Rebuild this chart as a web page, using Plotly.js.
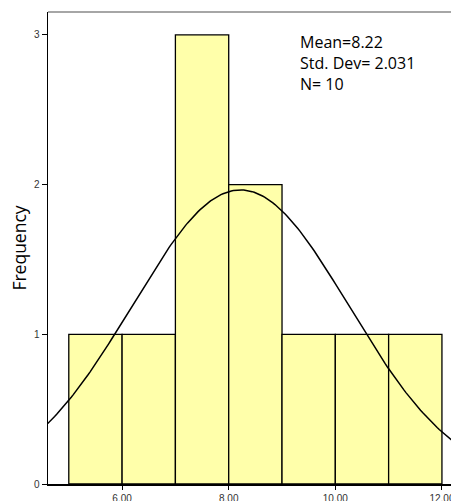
<!DOCTYPE html>
<html><head><meta charset="utf-8">
<script src="https://cdn.plot.ly/plotly-3.0.1.min.js"></script>
<style>html,body{margin:0;padding:0;background:#fff}#c{width:451px;height:501px}</style>
</head><body><div id="c"></div>
<script>
const binCenters = [5.5, 6.5, 7.5, 8.5, 9.5, 10.5, 11.5];
const counts = [1, 1, 3, 2, 1, 1, 1];
const xTickVals = [6, 8, 10, 12];
const xTickText = ["6.00", "8.00", "10.00", "12.00"];
const yTickVals = [0, 1, 2, 3];
const mean = 8.22, sd = 2.031, n = 10, binWidth = 1;

const cx = [], cy = [];
for (let i = 0; i <= 200; i++) {
  const x = 4.5 + i * (12.3 - 4.5) / 200;
  cx.push(x);
  cy.push(n * binWidth * Math.exp(-0.5 * Math.pow((x - mean) / sd, 2)) / (sd * Math.sqrt(2 * Math.PI)));
}

const data = [
  {type: 'bar', x: binCenters, y: counts, width: 1,
   marker: {color: 'rgb(255,255,170)', line: {color: '#000', width: 1.3}}, hoverinfo: 'none'},
  {type: 'scatter', mode: 'lines', x: cx, y: cy, line: {color: '#000', width: 1.5}, hoverinfo: 'none'}
];
const layout = {
  width: 451, height: 501,
  margin: {l: 48, r: 0, t: 12, b: 17},
  paper_bgcolor: '#fff', plot_bgcolor: '#fff',
  showlegend: false, bargap: 0,
  xaxis: {range: [4.61, 12.17], tickvals: xTickVals, ticktext: xTickText, showgrid: false, zeroline: false,
          showline: true, linecolor: '#000', linewidth: 1.5, ticks: 'outside', ticklen: 4, tickcolor: '#000',
          ticklabeloverflow: 'allow', ticklabelstandoff: 0,
          tickfont: {family: 'Liberation Sans, Arial', size: 10, color: '#333'}},
  yaxis: {range: [0, 3.153], tickvals: yTickVals, showgrid: false, zeroline: false,
          showline: true, linecolor: '#000', linewidth: 1.5, ticks: 'outside', ticklen: 5, tickcolor: '#000',
          tickfont: {family: 'Liberation Sans, Arial', size: 10, color: '#333'},
          title: {text: 'Frequency', font: {family: 'Open Sans, Liberation Sans', size: 17.5, color: '#000'}, standoff: 3}},
  shapes: [{type: 'line', xref: 'paper', yref: 'paper', x0: 0, x1: 1, y0: 1, y1: 1, line: {color: '#888', width: 1.5}}],
  annotations: [{xref: 'paper', yref: 'paper', x: (298-48)/403, y: (484-63)/472, xanchor: 'left', yanchor: 'middle', align: 'left',
    showarrow: false, text: 'Mean=8.22<br>Std. Dev= 2.031<br>N= 10',
    font: {family: 'Open Sans, Liberation Sans', size: 16, color: '#000'}}]
};
Plotly.newPlot('c', data, layout, {displayModeBar: false, staticPlot: true});
</script></body></html>
